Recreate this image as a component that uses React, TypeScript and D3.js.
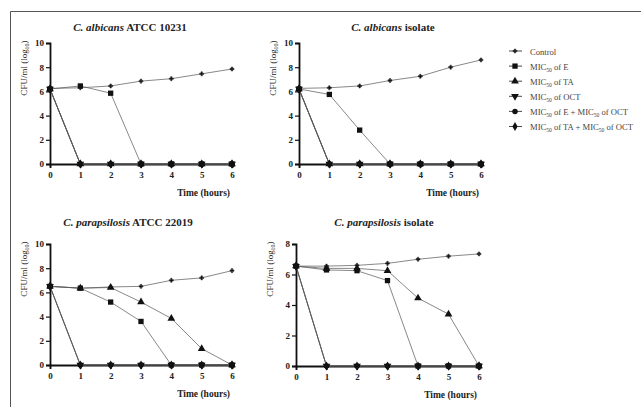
import { useEffect, useRef } from 'react';
import * as d3 from 'd3';

const hours = [0, 1, 2, 3, 4, 5, 6];

const seriesNames = ['Control', 'E', 'TA', 'OCT', 'E + OCT', 'TA + OCT'];

// one row per series, same order as seriesNames
const albicansAtcc = [
  [6.25, 6.3, 6.45, 6.85, 7.05, 7.45, 7.85],
  [6.2, 6.45, 5.85, 0, 0, 0, 0],
  [6.2, 0, 0, 0, 0, 0, 0],
  [6.2, 0, 0, 0, 0, 0, 0],
  [6.2, 0, 0, 0, 0, 0, 0],
  [6.2, 0, 0, 0, 0, 0, 0],
];

const albicansIsolate = [
  [6.25, 6.3, 6.45, 6.9, 7.25, 8.0, 8.6],
  [6.2, 5.75, 2.8, 0, 0, 0, 0],
  [6.2, 0, 0, 0, 0, 0, 0],
  [6.2, 0, 0, 0, 0, 0, 0],
  [6.2, 0, 0, 0, 0, 0, 0],
  [6.2, 0, 0, 0, 0, 0, 0],
];

const parapsilosisAtcc = [
  [6.5, 6.35, 6.45, 6.5, 7.0, 7.2, 7.8],
  [6.5, 6.35, 5.2, 3.6, 0, 0, 0],
  [6.5, 6.35, 6.4, 5.2, 3.85, 1.35, 0],
  [6.5, 0, 0, 0, 0, 0, 0],
  [6.5, 0, 0, 0, 0, 0, 0],
  [6.5, 0, 0, 0, 0, 0, 0],
];

const parapsilosisIsolate = [
  [6.55, 6.55, 6.6, 6.73, 7.0, 7.2, 7.35],
  [6.55, 6.3, 6.25, 5.6, 0, 0, 0],
  [6.55, 6.4, 6.4, 6.25, 4.45, 3.4, 0],
  [6.55, 0, 0, 0, 0, 0, 0],
  [6.55, 0, 0, 0, 0, 0, 0],
  [6.55, 0, 0, 0, 0, 0, 0],
];

const yTicks10 = [0, 2, 4, 6, 8, 10];
const yTicks8 = [0, 2, 4, 6, 8];

const panels = [
  { species: 'C. albicans', strain: ' ATCC 10231', values: albicansAtcc, yMax: 10, ticks: yTicks10,
    left: 50, right: 232, top: 43, bottom: 164, titleX: 130, titleY: 31 },
  { species: 'C. albicans', strain: ' isolate', values: albicansIsolate, yMax: 10, ticks: yTicks10,
    left: 299, right: 481, top: 43, bottom: 164, titleX: 393, titleY: 31 },
  { species: 'C. parapsilosis', strain: ' ATCC 22019', values: parapsilosisAtcc, yMax: 10, ticks: yTicks10,
    left: 50, right: 232, top: 244, bottom: 365, titleX: 128, titleY: 226 },
  { species: 'C. parapsilosis', strain: ' isolate', values: parapsilosisIsolate, yMax: 8, ticks: yTicks8,
    left: 296, right: 479, top: 244, bottom: 366, titleX: 384, titleY: 226 },
];

const symbolFor = (i) => {
  const types = [d3.symbolCross, d3.symbolSquare, d3.symbolTriangle, d3.symbolTriangle, d3.symbolCircle, d3.symbolDiamond];
  const sizes = [9, 28, 26, 26, 24, 24];
  return d3.symbol().type(types[i]).size(sizes[i])();
};
const rotFor = (i) => (i === 3 ? ' rotate(180)' : '');

const serif = '"Liberation Serif", "DejaVu Serif", serif';

const App = () => {
  const svgRef = useRef();

  useEffect(() => {
    const svg = d3.select(svgRef.current);
    svg.selectAll('*').remove();

    // frame
    svg.append('path').attr('d', 'M10.5,407V11.5H641').attr('fill', 'none').attr('stroke', '#555').attr('stroke-width', 1);

    panels.forEach((p) => {
      const x = d3.scaleLinear().domain([0, 6]).range([p.left, p.right]);
      const y = d3.scaleLinear().domain([0, p.yMax]).range([p.bottom, p.top]);
      const g = svg.append('g');

      // title
      const t = g.append('text').attr('x', p.titleX).attr('y', p.titleY).attr('text-anchor', 'middle')
        .attr('font-family', serif).attr('font-size', 11).attr('font-weight', 'bold').attr('fill', '#222');
      t.append('tspan').attr('font-style', 'italic').text(p.species);
      t.append('tspan').text(p.strain);

      // y label
      const yl = g.append('text')
        .attr('transform', `translate(${p.left - 23},${p.top + 25}) rotate(-90)`)
        .attr('text-anchor', 'middle').attr('font-family', serif).attr('font-size', 9).attr('fill', '#222');
      yl.append('tspan').text('CFU/ml (log');
      yl.append('tspan').attr('font-size', 6).attr('dy', 2).text('10');
      yl.append('tspan').attr('dy', -2).text(')');

      // x label
      g.append('text').attr('x', p.right - 2).attr('y', p.bottom + 32).attr('text-anchor', 'end')
        .attr('font-family', serif).attr('font-size', 9.5).attr('font-weight', 'bold').attr('fill', '#222')
        .text('Time (hours)');

      const xAxis = g.append('g').attr('transform', `translate(0,${p.bottom})`)
        .call(d3.axisBottom(x).tickValues(hours).tickFormat(d3.format('d')).tickSize(4).tickPadding(4));
      const yAxis = g.append('g').attr('transform', `translate(${p.left},0)`)
        .call(d3.axisLeft(y).tickValues(p.ticks).tickSize(4).tickPadding(2));
      [xAxis, yAxis].forEach((a) => {
        a.select('.domain').attr('stroke', '#111').attr('stroke-width', 1.8);
        a.selectAll('.tick line').attr('stroke', '#111').attr('stroke-width', 1.2);
        a.selectAll('.tick text').attr('font-family', serif).attr('font-size', 9)
          .attr('font-weight', 'bold').attr('fill', '#222');
      });

      const line = d3.line().x((d, i) => x(hours[i])).y((d) => y(d));
      p.values.forEach((vals) => {
        g.append('path').attr('d', line(vals)).attr('fill', 'none').attr('stroke', '#555').attr('stroke-width', 0.7);
      });
      p.values.forEach((vals, si) => {
        g.selectAll(null).data(vals).enter().append('path')
          .attr('d', symbolFor(si))
          .attr('transform', (d, i) => `translate(${x(hours[i])},${y(d)})${rotFor(si)}`)
          .attr('fill', '#111').attr('stroke', si === 0 ? '#333' : 'none').attr('stroke-width', 0.6);
      });
    });

    // legend
    const lg = svg.append('g').attr('transform', 'translate(515,51)');
    seriesNames.forEach((name, i) => {
      const row = lg.append('g').attr('transform', `translate(0,${i * 15.1})`);
      row.append('line').attr('x1', -6).attr('x2', 7).attr('stroke', '#333').attr('stroke-width', 0.9);
      row.append('path').attr('d', symbolFor(i)).attr('transform', rotFor(i).trim())
        .attr('fill', '#111').attr('stroke', i === 0 ? '#333' : 'none').attr('stroke-width', 0.6);
      const tx = row.append('text').attr('x', 15).attr('y', 3.5).attr('font-family', serif)
        .attr('font-size', 8.6).attr('fill', '#444');
      if (i === 0) {
        tx.text(name);
        return;
      }
      const parts = name.split(' + ');
      parts.forEach((part, k) => {
        tx.append('tspan').text((k > 0 ? ' + ' : '') + 'MIC');
        tx.append('tspan').attr('font-size', 5.5).attr('dy', 2).text('50');
        tx.append('tspan').attr('dy', -2).text(' of ' + part);
      });
    });
  }, []);

  return <svg ref={svgRef} width={641} height={407} style={{ position: 'absolute', left: 0, top: 0, background: '#fff' }} />;
};

export default App;
